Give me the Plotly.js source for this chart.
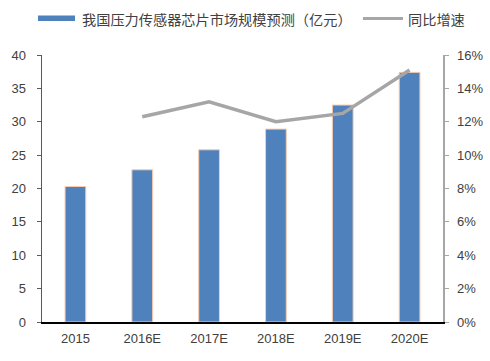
<!DOCTYPE html>
<html><head><meta charset="utf-8">
<script src="https://cdn.plot.ly/plotly-3.0.1.min.js"></script>
<style>html,body{margin:0;padding:0;background:#fff}#c{width:490px;height:361px}</style>
</head><body><div id="c"></div>
<script>
const categories = ['2015','2016E','2017E','2018E','2019E','2020E'];
const marketSize = [20.3, 22.8, 25.8, 28.9, 32.5, 37.4];
const growthRate = [null, 0.123, 0.132, 0.120, 0.125, 0.151];
const barName = '我国压力传感器芯片市场规模预测（亿元）';
const lineName = '同比增速';

const tickFont = {family:'Liberation Sans, Arial, sans-serif', size:13, color:'#404040'};
const legFont = {family:'Noto Sans CJK SC, sans-serif', size:14.2, color:'#404040'};

const data = [
  {type:'bar', x:categories, y:marketSize, name:barName, width:0.31,
   marker:{color:'#4F81BD', line:{color:'#F8CBAD', width:1}}, showlegend:false},
  {type:'scatter', mode:'lines', x:categories, y:growthRate, yaxis:'y2', name:lineName,
   line:{color:'#A6A6A6', width:3.5}, connectgaps:false, showlegend:false}
];
const py = p => (322 - p) / 267;
const px = p => (p - 42) / 401;
const layout = {
  width:490, height:361,
  margin:{l:42, r:47, t:55, b:39},
  paper_bgcolor:'#fff', plot_bgcolor:'#fff',
  showlegend:false,
  xaxis:{type:'category', showgrid:false, zeroline:false, showline:true, linecolor:'#000', linewidth:1.5,
    ticks:'', tickfont:tickFont, ticklabelstandoff:4, fixedrange:true},
  yaxis:{range:[0,40], dtick:5, showgrid:false, zeroline:false, showline:true, linecolor:'#595959', linewidth:1.5,
    ticks:'outside', ticklen:4, tickcolor:'#595959', tickfont:tickFont, ticklabelstandoff:8},
  yaxis2:{range:[0,0.16], dtick:0.02, tickformat:'.0%', overlaying:'y', side:'right', showgrid:false, zeroline:false,
    showline:true, linecolor:'#A6A6A6', linewidth:1.5, ticks:'outside', ticklen:4, tickcolor:'#A6A6A6',
    tickfont:tickFont, ticklabelstandoff:6},
  shapes:[
    {type:'rect', xref:'paper', yref:'paper', x0:px(38), x1:px(75), y0:py(21), y1:py(15.5),
     fillcolor:'#4F81BD', line:{width:0}},
    {type:'line', xref:'paper', yref:'paper', x0:px(363), x1:px(403), y0:py(18.5), y1:py(18.5),
     line:{color:'#A6A6A6', width:3}}
  ],
  annotations:[
    {text:barName, xref:'paper', yref:'paper', x:px(80), y:py(18.5), xanchor:'left', yanchor:'middle', showarrow:false, font:legFont},
    {text:lineName, xref:'paper', yref:'paper', x:px(406), y:py(18.5), xanchor:'left', yanchor:'middle', showarrow:false, font:legFont}
  ]
};
Plotly.newPlot('c', data, layout, {displayModeBar:false, staticPlot:true});
</script></body></html>
